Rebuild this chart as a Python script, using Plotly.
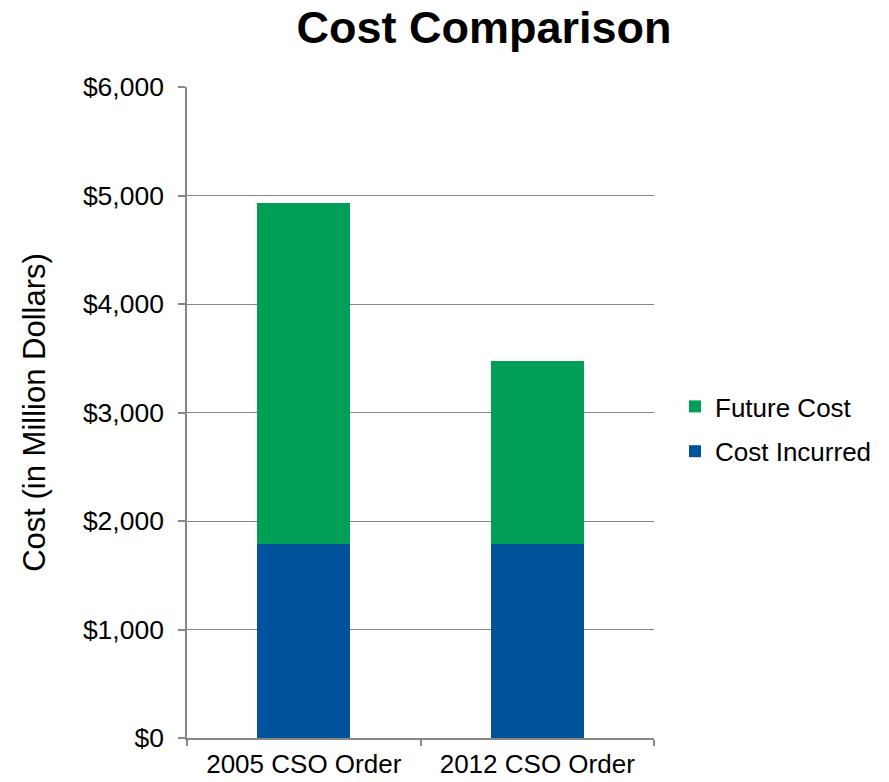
import plotly.graph_objects as go

categories = ["2005 CSO Order", "2012 CSO Order"]
cost_incurred = [1785, 1785]
future_cost = [3150, 1690]
y_ticks = [0, 1000, 2000, 3000, 4000, 5000, 6000]
y_tick_labels = ["$0", "$1,000", "$2,000", "$3,000", "$4,000", "$5,000", "$6,000"]

FONT = "Liberation Sans, Arial, sans-serif"
GRID = "#878787"

fig = go.Figure()
fig.add_trace(go.Bar(name="Cost Incurred", x=categories, y=cost_incurred,
                     marker=dict(color="#00529B", line=dict(width=0)),
                     legendgroup="a", legendrank=2))
fig.add_trace(go.Bar(name="Future Cost", x=categories, y=future_cost,
                     marker=dict(color="#009E57", line=dict(width=0)),
                     legendgroup="b", legendrank=1))

fig.update_layout(
    width=889, height=782,
    barmode="stack", bargap=0.6,
    plot_bgcolor="white", paper_bgcolor="white",
    margin=dict(l=187, r=235, t=87, b=44, autoexpand=False),
    font=dict(family=FONT, color="black", size=26),
    title=dict(text="<b>Cost Comparison</b>", x=484/889, xanchor="center",
               y=1 - 27/782, yanchor="middle", xref="container", yref="container",
               font=dict(size=45, family=FONT, color="black")),
    legend=dict(traceorder="grouped", tracegroupgap=8,
                xref="container", yref="container",
                x=675/889, xanchor="left", y=1 - 429/782, yanchor="middle",
                font=dict(size=26, family=FONT), itemwidth=30),
    showlegend=True,
)
fig.update_xaxes(showline=True, linecolor=GRID, linewidth=1.5, automargin=False,
                 ticks="outside", tickson="boundaries", ticklen=6, tickcolor=GRID,
                 tickwidth=1.5, ticklabelstandoff=2, tickfont=dict(size=26))
fig.update_yaxes(range=[0, 6000], tickvals=y_ticks, ticktext=y_tick_labels,
                 automargin=False,
                 showgrid=True, gridcolor=GRID, gridwidth=1.3,
                 showline=True, linecolor=GRID, linewidth=1.5,
                 ticks="outside", ticklen=7, tickcolor=GRID, tickwidth=1.5,
                 ticklabelstandoff=9,
                 zeroline=False, tickfont=dict(size=26.5),
                 title=dict(text="Cost (in Million Dollars)", font=dict(size=31), standoff=28))

fig.write_html("out.html", config={"displayModeBar": False},
               post_script="document.body.style.margin='0';")
